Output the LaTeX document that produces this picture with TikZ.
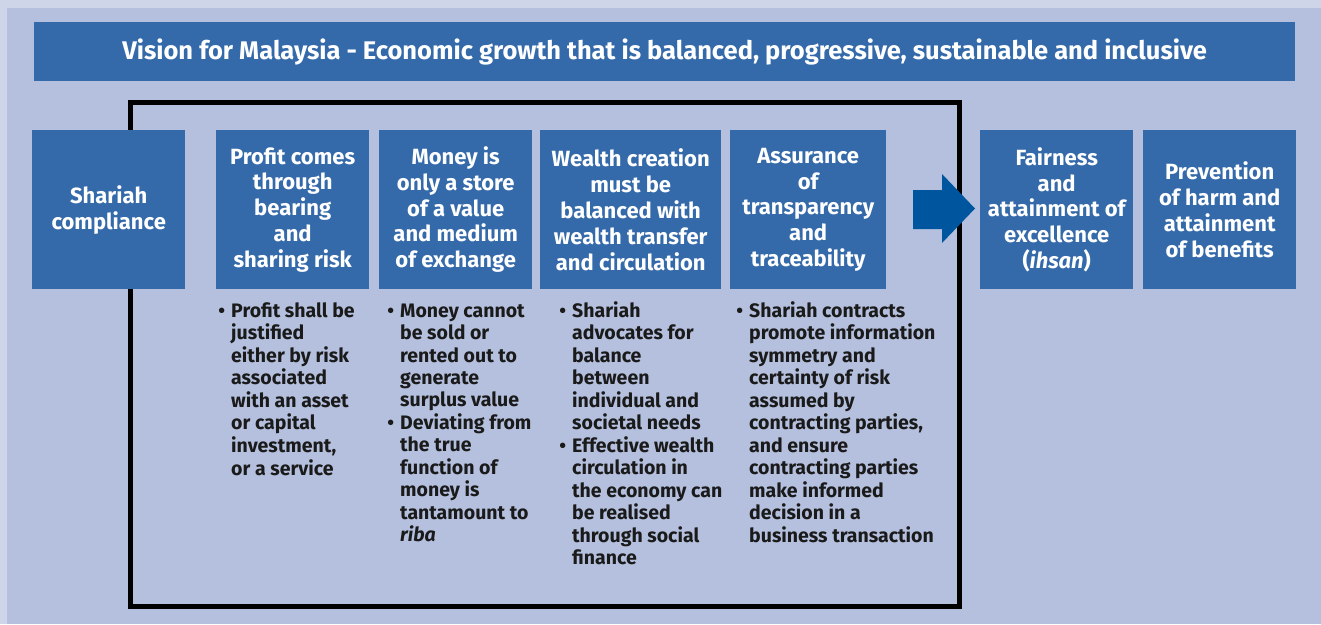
\documentclass[tikz,border=0pt]{standalone}
\usepackage{fontspec}
\setmainfont{Fira Sans}
\definecolor{bgmain}{HTML}{B4C0DE}
\definecolor{bgedge}{HTML}{CFD5E8}
\definecolor{boxblue}{HTML}{356AAA}
\definecolor{arrblue}{HTML}{00559F}
\definecolor{txtdark}{HTML}{1A1A1A}
\newcommand{\bl}{\makebox[0pt][r]{\textbullet\hspace{6pt}}}
\begin{document}
\begin{tikzpicture}[x=1pt,y=-1pt,
  box/.style={fill=boxblue, draw=none, text=white, font=\bfseries\fontsize{22}{25.8}\selectfont, align=center, inner sep=0, anchor=north west},
  titlebox/.style={fill=boxblue, draw=none, text=white, font=\bfseries\fontsize{25.5}{28}\selectfont, inner sep=0, anchor=north west},
  bul/.style={anchor=base west, inner sep=0, text=txtdark, font=\bfseries\fontsize{19.5}{22.4}\selectfont},
  frame/.style={draw=black, line width=5pt},
  blockarrow/.style={fill=arrblue, draw=none}
]
\useasboundingbox (0,0) rectangle (1321,624);
\fill[bgedge] (0,0) rectangle (1321,624);
\fill[bgmain] (7,8) rectangle (1321,624);

\node[titlebox, minimum width=1261, minimum height=59] (title) at (34,22)
  {Vision for Malaysia - Economic growth that is balanced, progressive, sustainable and inclusive};

\draw[frame] (130.5,102) rectangle (959.5,606.5);

\node[box, minimum width=153, minimum height=159] (shariah) at (32,130) {Shariah\\compliance};
\node[box, minimum width=153, minimum height=159] (profit) at (216,130) {Profit comes\\through\\bearing\\and\\sharing risk};
\node[box, minimum width=153, minimum height=159] (money) at (379,130) {Money is\\only a store\\of a value\\and medium\\of exchange};
\node[box, minimum width=181, minimum height=159] (wealth) at (540,130) {Wealth creation\\must be\\balanced with\\wealth transfer\\and circulation};
\node[box, minimum width=156, minimum height=159] (assur) at (730,130) {Assurance\\of\\transparency\\and\\traceability};
\node[box, minimum width=153, minimum height=159] (fair) at (980,130) {Fairness\\and\\attainment of\\excellence\\(\textit{ihsan})};
\node[box, minimum width=153, minimum height=159] (prev) at (1143,130) {Prevention\\of harm and\\attainment\\of benefits};

\fill[blockarrow] (913,190) -- (942,190) -- (942,174) -- (975,208.5) -- (942,243) -- (942,229) -- (913,229) -- cycle;

\node[bul] (tprofit) at (231,317.3) {\begin{tabular}[t]{@{}l@{}}
\bl Profit shall be\\ justified\\ either by risk\\ associated\\ with an asset\\ or capital\\ investment,\\ or a service
\end{tabular}};
\node[bul] (tmoney) at (400,317.3) {\begin{tabular}[t]{@{}l@{}}
\bl Money cannot\\ be sold or\\ rented out to\\ generate\\ surplus value\\
\bl Deviating from\\ the true\\ function of\\ money is\\ tantamount to\\ \textit{riba}
\end{tabular}};
\node[bul] (twealth) at (572,317.3) {\begin{tabular}[t]{@{}l@{}}
\bl Shariah\\ advocates for\\ balance\\ between\\ individual and\\ societal needs\\
\bl Effective wealth\\ circulation in\\ the economy can\\ be realised\\ through social\\ finance
\end{tabular}};
\node[bul] (tassur) at (749,317.3) {\begin{tabular}[t]{@{}l@{}}
\bl Shariah contracts\\ promote information\\ symmetry and\\ certainty of risk\\ assumed by\\ contracting parties,\\ and ensure\\ contracting parties\\ make informed\\ decision in a\\ business transaction
\end{tabular}};
\end{tikzpicture}
\end{document}
